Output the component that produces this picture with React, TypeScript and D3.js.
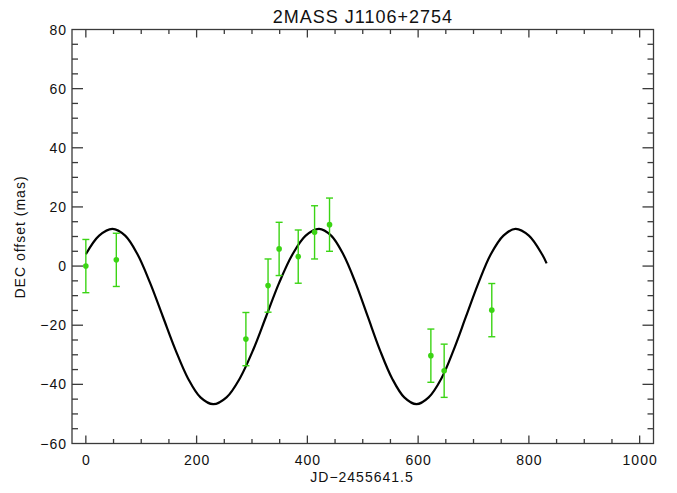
import { useEffect, useRef } from "react";
import * as d3 from "d3";

// Observed epochs (JD-2455641.5), DEC offsets and 1-sigma errors (mas)
const OBS_JD = [0, 55, 289, 329, 349, 383.5, 413, 440, 623, 647, 733];
const OBS_DEC = [0, 2.1, -24.7, -6.6, 5.8, 3.2, 11.4, 14.0, -30.3, -35.4, -14.9];
const OBS_ERR = [9, 9, 9, 9, 9, 9, 9, 9, 9, 9, 9];

// Fitted model curve
const MODEL_JD = [
  0, 24, 48, 71, 93.5, 116, 139, 162, 184.5, 207, 230,
  254, 278, 302, 325.5, 349, 373, 397, 421,
  443, 465, 487, 509, 531, 553, 575, 597,
  619, 642, 664, 686.5, 709, 731, 754, 776,
  800, 824, 832,
];
const MODEL_DEC = [
  4.0, 10.3, 12.6, 10.3, 3.9, -5.7, -17.05, -28.4, -38.0, -44.4, -46.7,
  -44.4, -38.0, -28.4, -17.05, -5.7, 3.9, 10.3, 12.6,
  10.3, 3.9, -5.7, -17.05, -28.4, -38.0, -44.4, -46.7,
  -44.4, -38.0, -28.4, -17.05, -5.7, 3.9, 10.3, 12.6,
  10.3, 3.9, 0.9,
];

const X_MAJOR = [0, 200, 400, 600, 800, 1000];
const Y_MAJOR = [-60, -40, -20, 0, 20, 40, 60, 80];

const TITLE = "2MASS J1106+2754";
const X_LABEL = "JD\u22122455641.5";
const Y_LABEL = "DEC offset (mas)";

const W = 677;
const H = 493;
const GREEN = "#3bd414";
const AXIS = "#3a3a3a";
const FONT = "'Liberation Sans', Arial, Helvetica, sans-serif";

export default function App() {
  const svgRef = useRef<SVGSVGElement | null>(null);

  useEffect(() => {
    const svg = d3.select(svgRef.current);
    svg.selectAll("*").remove();

    const x = d3.scaleLinear().domain([-25, 1025]).range([72, 653.5]);
    const y = d3.scaleLinear().domain([-60, 80]).range([443.5, 29.5]);
    const [x0, x1] = x.range();
    const [yb, yt] = y.range();

    svg.append("rect")
      .attr("width", W).attr("height", H).attr("fill", "white");

    // ----- frame -----
    svg.append("rect")
      .attr("x", x0).attr("y", yt)
      .attr("width", x1 - x0).attr("height", yb - yt)
      .attr("fill", "none").attr("stroke", AXIS).attr("stroke-width", 1.3);

    const ticks = svg.append("g").attr("stroke", AXIS).attr("stroke-width", 1.3);

    // x ticks (bottom + top)
    d3.range(0, 1001, 50).forEach((v) => {
      const major = v % 200 === 0;
      const len = major ? 8 : 4.5;
      ticks.append("line")
        .attr("x1", x(v)).attr("x2", x(v))
        .attr("y1", yb).attr("y2", yb - len);
      ticks.append("line")
        .attr("x1", x(v)).attr("x2", x(v))
        .attr("y1", yt).attr("y2", yt + len);
    });

    // y ticks (left + right)
    d3.range(-55, 80, 5).forEach((v) => {
      const major = v % 20 === 0;
      const len = major ? 11 : 6;
      ticks.append("line")
        .attr("x1", x0).attr("x2", x0 + len)
        .attr("y1", y(v)).attr("y2", y(v));
      ticks.append("line")
        .attr("x1", x1).attr("x2", x1 - len)
        .attr("y1", y(v)).attr("y2", y(v));
    });

    const labels = svg.append("g")
      .attr("font-family", FONT).attr("font-size", 14)
      .attr("fill", "#111").attr("letter-spacing", 1);

    X_MAJOR.forEach((v) => {
      labels.append("text")
        .attr("x", x(v) + 0.5).attr("y", 465)
        .attr("text-anchor", "middle")
        .text(v);
    });
    Y_MAJOR.forEach((v) => {
      labels.append("text")
        .attr("x", 67).attr("y", y(v) + 5)
        .attr("text-anchor", "end")
        .text(v < 0 ? "\u2212" + Math.abs(v) : String(v));
    });

    labels.append("text")
      .attr("x", 362).attr("y", 482)
      .attr("text-anchor", "middle")
      .text(X_LABEL);
    labels.append("text")
      .attr("transform", "translate(25,237) rotate(-90)")
      .attr("text-anchor", "middle")
      .text(Y_LABEL);

    svg.append("text")
      .attr("x", 363).attr("y", 22.5)
      .attr("text-anchor", "middle")
      .attr("font-family", FONT).attr("font-size", 18)
      .attr("letter-spacing", 1).attr("fill", "#111")
      .text(TITLE);

    // ----- model curve -----
    const line = d3.line<number>()
      .x((d, i) => x(MODEL_JD[i]))
      .y((d) => y(d))
      .curve(d3.curveCatmullRom);
    svg.append("path")
      .attr("d", line(MODEL_DEC))
      .attr("fill", "none").attr("stroke", "#000")
      .attr("stroke-width", 2.2);

    // ----- data with error bars -----
    const obs = OBS_JD.map((jd, i) => ({ jd, dec: OBS_DEC[i], err: OBS_ERR[i] }));
    const eb = svg.append("g").attr("stroke", GREEN).attr("stroke-width", 1.4);
    obs.forEach((d) => {
      const cx = x(d.jd);
      const top = y(d.dec + d.err);
      const bot = y(d.dec - d.err);
      eb.append("line").attr("x1", cx).attr("x2", cx).attr("y1", top).attr("y2", bot);
      eb.append("line").attr("x1", cx - 3.5).attr("x2", cx + 3.5).attr("y1", top).attr("y2", top);
      eb.append("line").attr("x1", cx - 3.5).attr("x2", cx + 3.5).attr("y1", bot).attr("y2", bot);
    });
    svg.append("g").selectAll("circle")
      .data(obs)
      .enter()
      .append("circle")
      .attr("cx", (d) => x(d.jd))
      .attr("cy", (d) => y(d.dec))
      .attr("r", 2.8)
      .attr("fill", GREEN);
  }, []);

  return (
    <svg
      ref={svgRef}
      width={W}
      height={H}
      style={{ position: "absolute", left: 0, top: 0 }}
    />
  );
}
